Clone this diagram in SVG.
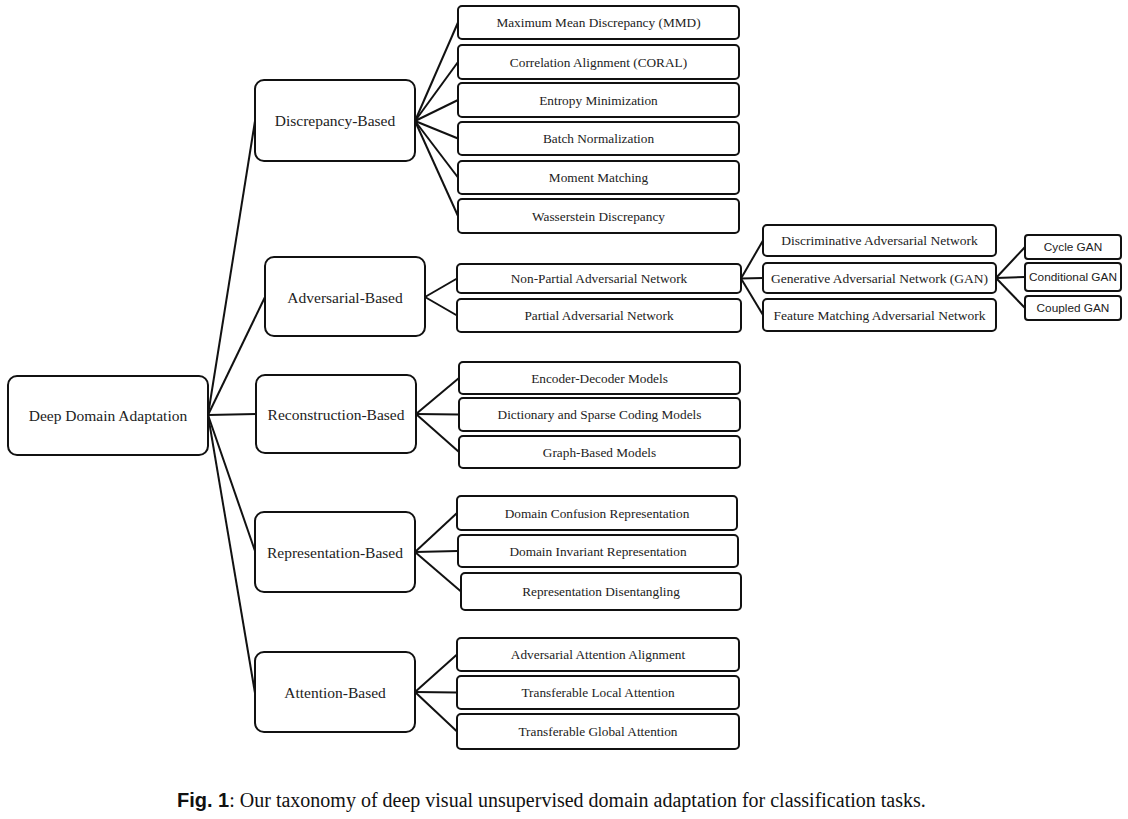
<svg xmlns="http://www.w3.org/2000/svg" width="1128" height="819" viewBox="0 0 1128 819">
  <style>
    .box { fill: #ffffff; stroke: #111111; stroke-width: 2; }
    .edge { stroke: #111111; stroke-width: 2; fill: none; }
    .t { font-family: "Liberation Serif", "Times New Roman", serif; fill: #222222; text-anchor: middle; dominant-baseline: central; }
    .t1 { font-size: 15.5px; }
    .t2 { font-size: 13.3px; }
    .t3 { font-size: 13.5px; }
    .s { font-family: "Liberation Sans", Arial, sans-serif; font-size: 11.8px; fill: #222222; text-anchor: middle; dominant-baseline: central; }
    .cap { font-family: "Liberation Serif", "Times New Roman", serif; font-size: 20px; fill: #111111; }
    .capb { font-family: "Liberation Sans", Arial, sans-serif; font-weight: bold; }
  </style>

  <rect width="1128" height="819" fill="#ffffff"/>

  <!-- connectors -->
  <g id="connectors">
    <!-- root to categories -->
    <line class="edge" x1="208" y1="415" x2="255" y2="121"/>
    <line class="edge" x1="208" y1="415" x2="265" y2="297"/>
    <line class="edge" x1="208" y1="415" x2="256" y2="414"/>
    <line class="edge" x1="208" y1="415" x2="255" y2="551"/>
    <line class="edge" x1="208" y1="415" x2="255" y2="693"/>
    <!-- discrepancy -->
    <line class="edge" x1="415" y1="121" x2="458" y2="22.5"/>
    <line class="edge" x1="415" y1="121" x2="458" y2="62"/>
    <line class="edge" x1="415" y1="121" x2="458" y2="100"/>
    <line class="edge" x1="415" y1="121" x2="458" y2="138.5"/>
    <line class="edge" x1="415" y1="121" x2="458" y2="177.5"/>
    <line class="edge" x1="415" y1="121" x2="458" y2="216"/>
    <!-- adversarial -->
    <line class="edge" x1="425" y1="297" x2="457" y2="278.5"/>
    <line class="edge" x1="425" y1="297" x2="457" y2="315.5"/>
    <line class="edge" x1="741" y1="278.5" x2="763" y2="240.5"/>
    <line class="edge" x1="741" y1="278.5" x2="763" y2="278"/>
    <line class="edge" x1="741" y1="278.5" x2="763" y2="315"/>
    <line class="edge" x1="996" y1="278" x2="1025" y2="247"/>
    <line class="edge" x1="996" y1="278" x2="1025" y2="277"/>
    <line class="edge" x1="996" y1="278" x2="1025" y2="308"/>
    <!-- reconstruction -->
    <line class="edge" x1="416" y1="414" x2="459" y2="378"/>
    <line class="edge" x1="416" y1="414" x2="459" y2="414.5"/>
    <line class="edge" x1="416" y1="414" x2="459" y2="452"/>
    <!-- representation -->
    <line class="edge" x1="415" y1="552" x2="457" y2="513"/>
    <line class="edge" x1="415" y1="552" x2="458" y2="551"/>
    <line class="edge" x1="415" y1="552" x2="461" y2="591.5"/>
    <!-- attention -->
    <line class="edge" x1="415" y1="692" x2="457" y2="654.5"/>
    <line class="edge" x1="415" y1="692" x2="457" y2="692.5"/>
    <line class="edge" x1="415" y1="692" x2="457" y2="731.5"/>
  </g>

  <!-- root -->
  <g id="deep-domain-adaptation">
    <rect class="box" x="8" y="376" width="200" height="79" rx="9"/>
    <text class="t t1" x="108" y="415.5">Deep Domain Adaptation</text>
  </g>

  <!-- discrepancy-based branch -->
  <g id="discrepancy-based">
    <rect class="box" x="255" y="80" width="160" height="81" rx="9"/>
    <text class="t t1" x="335" y="120.5">Discrepancy-Based</text>
  </g>
  <g id="mmd">
    <rect class="box" x="458" y="6" width="281" height="33" rx="4"/>
    <text class="t t2" x="598.5" y="22.5">Maximum Mean Discrepancy (MMD)</text>
  </g>
  <g id="coral">
    <rect class="box" x="458" y="45" width="281" height="34" rx="4"/>
    <text class="t t2" x="598.5" y="62">Correlation Alignment (CORAL)</text>
  </g>
  <g id="entropy-minimization">
    <rect class="box" x="458" y="83" width="281" height="34" rx="4"/>
    <text class="t t2" x="598.5" y="100">Entropy Minimization</text>
  </g>
  <g id="batch-normalization">
    <rect class="box" x="458" y="122" width="281" height="33" rx="4"/>
    <text class="t t2" x="598.5" y="138.5">Batch Normalization</text>
  </g>
  <g id="moment-matching">
    <rect class="box" x="458" y="161" width="281" height="33" rx="4"/>
    <text class="t t2" x="598.5" y="177.5">Moment Matching</text>
  </g>
  <g id="wasserstein-discrepancy">
    <rect class="box" x="458" y="199" width="281" height="34" rx="4"/>
    <text class="t t2" x="598.5" y="216">Wasserstein Discrepancy</text>
  </g>

  <!-- adversarial-based branch -->
  <g id="adversarial-based">
    <rect class="box" x="265" y="257" width="160" height="79" rx="9"/>
    <text class="t t1" x="345" y="297">Adversarial-Based</text>
  </g>
  <g id="non-partial-adversarial-network">
    <rect class="box" x="457" y="264" width="284" height="29" rx="4"/>
    <text class="t t2" x="599" y="278.5">Non-Partial Adversarial Network</text>
  </g>
  <g id="partial-adversarial-network">
    <rect class="box" x="457" y="299" width="284" height="33" rx="4"/>
    <text class="t t2" x="599" y="315.5">Partial Adversarial Network</text>
  </g>
  <g id="discriminative-adversarial-network">
    <rect class="box" x="763" y="225" width="233" height="31" rx="4"/>
    <text class="t t3" x="879.5" y="240.5">Discriminative Adversarial Network</text>
  </g>
  <g id="generative-adversarial-network">
    <rect class="box" x="763" y="263" width="233" height="30" rx="4"/>
    <text class="t t3" x="879.5" y="278">Generative Adversarial Network (GAN)</text>
  </g>
  <g id="feature-matching-adversarial-network">
    <rect class="box" x="763" y="299" width="233" height="32" rx="4"/>
    <text class="t t3" x="879.5" y="315">Feature Matching Adversarial Network</text>
  </g>
  <g id="cycle-gan">
    <rect class="box" x="1025" y="235" width="96" height="24" rx="3"/>
    <text class="s" x="1073" y="247">Cycle GAN</text>
  </g>
  <g id="conditional-gan">
    <rect class="box" x="1025" y="263" width="96" height="28" rx="3"/>
    <text class="s" x="1073" y="277">Conditional GAN</text>
  </g>
  <g id="coupled-gan">
    <rect class="box" x="1025" y="296" width="96" height="24" rx="3"/>
    <text class="s" x="1073" y="308">Coupled GAN</text>
  </g>

  <!-- reconstruction-based branch -->
  <g id="reconstruction-based">
    <rect class="box" x="256" y="375" width="160" height="78" rx="9"/>
    <text class="t t1" x="336" y="414">Reconstruction-Based</text>
  </g>
  <g id="encoder-decoder-models">
    <rect class="box" x="459" y="362" width="281" height="32" rx="4"/>
    <text class="t t2" x="599.5" y="378">Encoder-Decoder Models</text>
  </g>
  <g id="dictionary-sparse-coding-models">
    <rect class="box" x="459" y="398" width="281" height="33" rx="4"/>
    <text class="t t2" x="599.5" y="414.5">Dictionary and Sparse Coding Models</text>
  </g>
  <g id="graph-based-models">
    <rect class="box" x="459" y="436" width="281" height="32" rx="4"/>
    <text class="t t2" x="599.5" y="452">Graph-Based Models</text>
  </g>

  <!-- representation-based branch -->
  <g id="representation-based">
    <rect class="box" x="255" y="512" width="160" height="80" rx="9"/>
    <text class="t t1" x="335" y="552">Representation-Based</text>
  </g>
  <g id="domain-confusion-representation">
    <rect class="box" x="457" y="496" width="280" height="34" rx="4"/>
    <text class="t t2" x="597" y="513">Domain Confusion Representation</text>
  </g>
  <g id="domain-invariant-representation">
    <rect class="box" x="458" y="535" width="280" height="32" rx="4"/>
    <text class="t t2" x="598" y="551">Domain Invariant Representation</text>
  </g>
  <g id="representation-disentangling">
    <rect class="box" x="461" y="573" width="280" height="37" rx="4"/>
    <text class="t t2" x="601" y="591.5">Representation Disentangling</text>
  </g>

  <!-- attention-based branch -->
  <g id="attention-based">
    <rect class="box" x="255" y="652" width="160" height="80" rx="9"/>
    <text class="t t1" x="335" y="692">Attention-Based</text>
  </g>
  <g id="adversarial-attention-alignment">
    <rect class="box" x="457" y="638" width="282" height="33" rx="4"/>
    <text class="t t2" x="598" y="654.5">Adversarial Attention Alignment</text>
  </g>
  <g id="transferable-local-attention">
    <rect class="box" x="457" y="676" width="282" height="33" rx="4"/>
    <text class="t t2" x="598" y="692.5">Transferable Local Attention</text>
  </g>
  <g id="transferable-global-attention">
    <rect class="box" x="457" y="714" width="282" height="35" rx="4"/>
    <text class="t t2" x="598" y="731.5">Transferable Global Attention</text>
  </g>

  <!-- caption -->
  <text class="cap" x="177" y="807"><tspan class="capb">Fig. 1</tspan>: Our taxonomy of deep visual unsupervised domain adaptation for classification tasks.</text>
</svg>
